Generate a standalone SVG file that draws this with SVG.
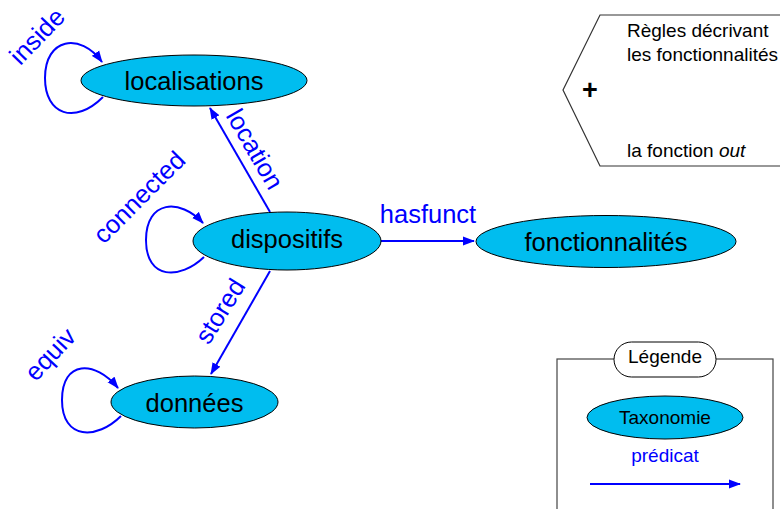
<svg xmlns="http://www.w3.org/2000/svg" width="780" height="509" viewBox="0 0 780 509">
<defs>
<marker id="ah" markerWidth="12" markerHeight="10" refX="11" refY="5" orient="auto" markerUnits="userSpaceOnUse">
<path d="M0,0.5 L12,5 L0,9.5 Z" fill="#0000ff"/>
</marker>
<style>
.node ellipse{fill:#00bdef;stroke:#000;stroke-width:1}
.nt{font-family:"Liberation Sans",Arial,sans-serif;font-size:25.5px;fill:#000;text-anchor:middle}
.lbl{font-family:"Liberation Sans",Arial,sans-serif;font-size:25.5px;fill:#0000ff;text-anchor:middle}
.edge{fill:none;stroke:#0000ff;stroke-width:2;marker-end:url(#ah)}
.lg{font-family:"Liberation Sans",Arial,sans-serif;font-size:19px;fill:#000}
</style>
</defs>
<rect width="780" height="509" fill="#fff"/>
<g id="connectors">
<path class="edge" d="M270,212 L210,108"/>
<path class="edge" d="M381,241 L474,241"/>
<path class="edge" d="M270,271 L211,374"/>
<path class="edge" d="M103,97 C75,125 45,115 45,78 C45,38 80,32 102,62"/>
<path class="edge" d="M204,257 C180,280 146,280 146,240 C146,200 180,198 203,223"/>
<path class="edge" d="M121,416 C97,440 62,440 62,400 C62,360 95,360 118,388"/>
<text class="lbl" transform="translate(37,36) rotate(-46)" dy="0.35em">inside</text>
<text class="lbl" transform="translate(255,149) rotate(60)" dy="0.35em">location</text>
<text class="lbl" transform="translate(139,197) rotate(-45)" dy="0.35em">connected</text>
<text class="lbl" x="428" y="223">hasfunct</text>
<text class="lbl" transform="translate(220,311) rotate(-58)" dy="0.35em">stored</text>
<text class="lbl" transform="translate(50,354) rotate(-47)" dy="0.35em">equiv</text>
</g>
<g id="localisations" class="node">
<ellipse cx="194" cy="80.5" rx="113" ry="25.5"/>
<text class="nt" x="194" y="90">localisations</text>
</g>
<g id="dispositifs" class="node">
<ellipse cx="287" cy="241" rx="94" ry="29"/>
<text class="nt" x="287" y="248">dispositifs</text>
</g>
<g id="donnees" class="node">
<ellipse cx="194.5" cy="402" rx="83.5" ry="26"/>
<text class="nt" x="194.5" y="412">données</text>
</g>
<g id="fonctionnalites" class="node">
<ellipse cx="606" cy="241.5" rx="130" ry="26"/>
<text class="nt" x="606" y="251">fonctionnalités</text>
</g>
<g id="rules">
<path d="M782,15 H600 L563,90 L600,166 H782" fill="none" stroke="#333" stroke-width="1.2"/>
<text x="590" y="99" font-family="Liberation Sans,Arial,sans-serif" font-size="27" font-weight="bold" text-anchor="middle">+</text>
<text class="lg" x="627" y="37">Règles décrivant</text>
<text class="lg" x="627" y="61">les fonctionnalités</text>
<text class="lg" x="627" y="157">la fonction <tspan font-style="italic">out</tspan></text>
</g>
<g id="legend">
<rect x="557" y="359" width="216" height="200" fill="none" stroke="#444" stroke-width="1.2"/>
<rect x="614" y="342" width="102" height="35" rx="17.5" fill="#fff" stroke="#000" stroke-width="1"/>
<text class="lg" x="665" y="363" text-anchor="middle">Légende</text>
<g id="legend-taxonomie" class="node">
<ellipse cx="665" cy="417.5" rx="78" ry="21.5"/>
<text class="lg" x="665" y="424" text-anchor="middle">Taxonomie</text>
</g>
<text class="lg" x="665" y="462" text-anchor="middle" style="fill:#0000ff">prédicat</text>
<path class="edge" d="M590,484 L740,484"/>
</g>
</svg>
